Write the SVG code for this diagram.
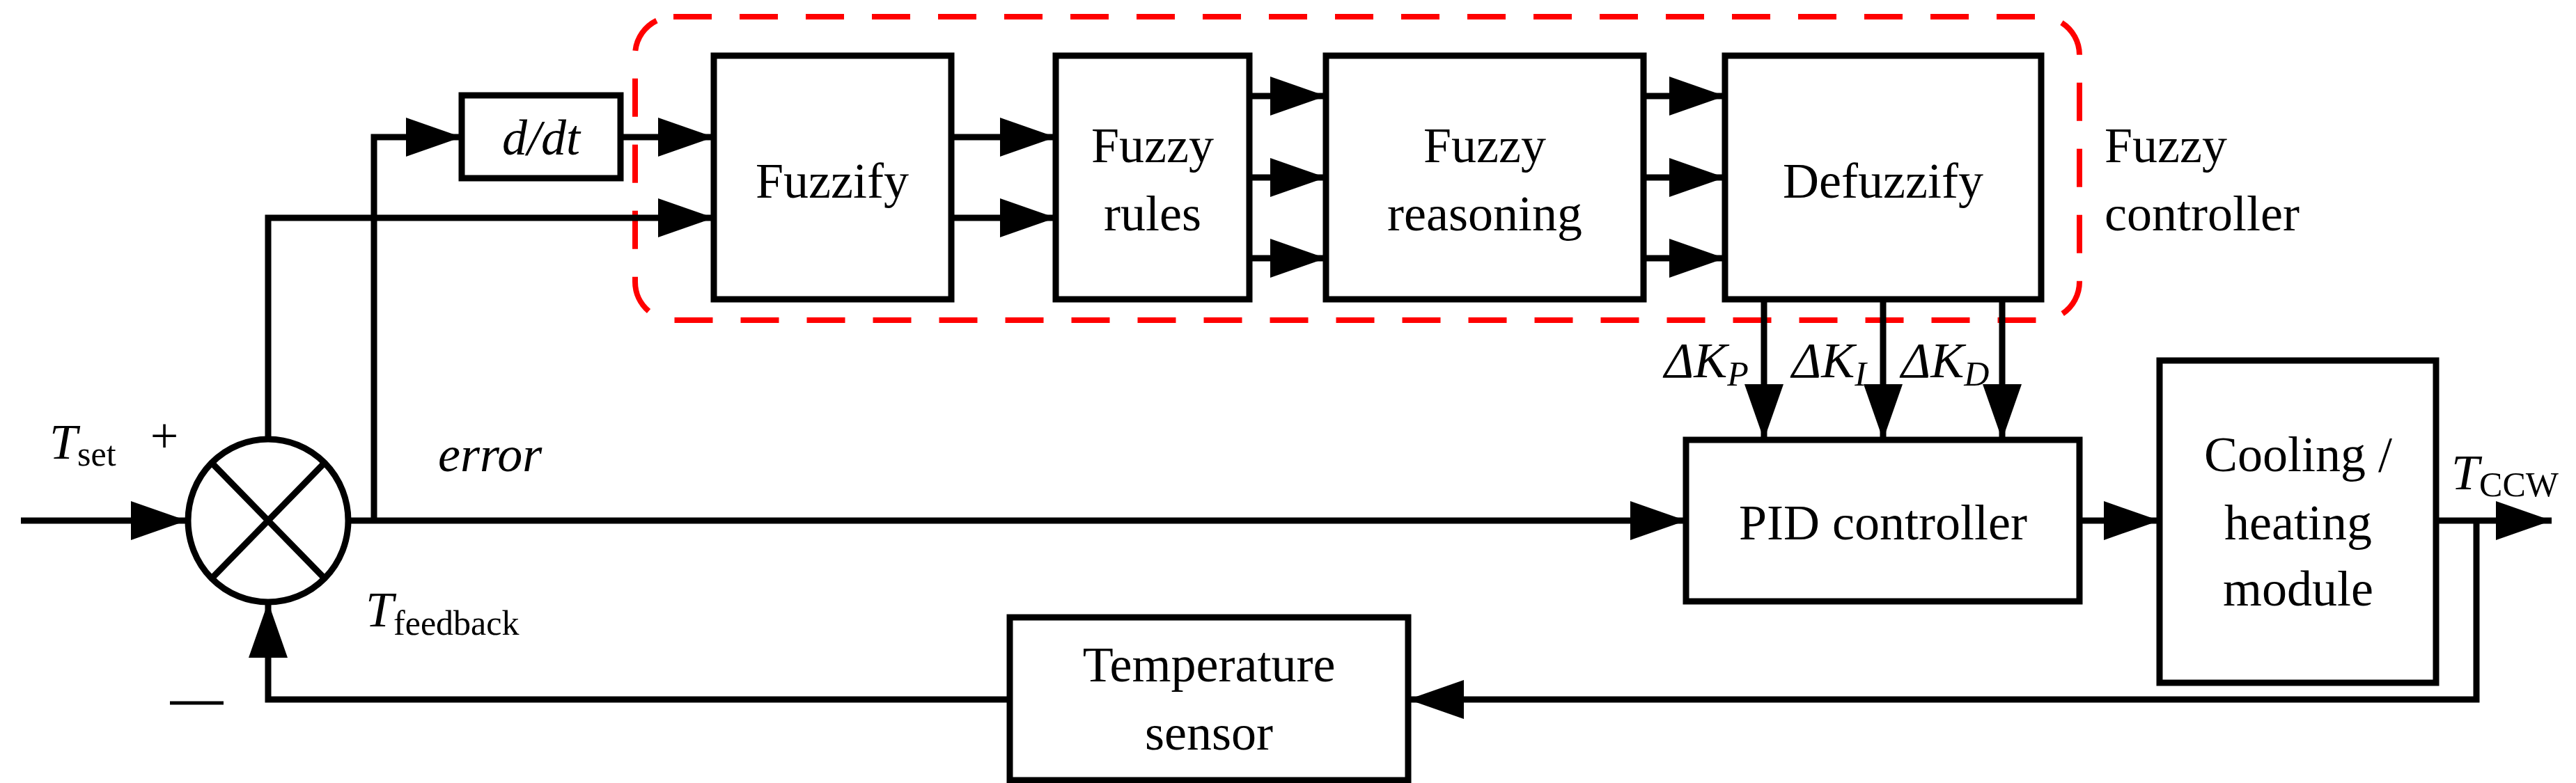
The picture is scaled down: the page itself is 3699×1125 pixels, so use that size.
<svg xmlns="http://www.w3.org/2000/svg" width="3699" height="1125" viewBox="0 0 3699 1125">
<defs>
<marker id="ah" viewBox="0 0 80 56" refX="80" refY="28" markerWidth="80" markerHeight="56" markerUnits="userSpaceOnUse" orient="auto"><path d="M0,0 L80,28 L0,56 Z" fill="#000"/></marker>
<style>
.b{fill:#fff;stroke:#000;stroke-width:9}
.l{fill:none;stroke:#000;stroke-width:9}
.t{font-family:"Liberation Serif",serif;font-size:72px;fill:#000;text-anchor:middle}
.i{font-style:italic}
</style>
</defs>
<rect x="912" y="24" width="2074" height="436" rx="55" fill="none" stroke="#f00" stroke-width="8" stroke-dasharray="55,40"/>
<g id="connectors">
<path class="l" d="M30,748 H268" marker-end="url(#ah)"/>
<path class="l" d="M500,748 H2421" marker-end="url(#ah)"/>
<path class="l" d="M537,748 V197 H663" marker-end="url(#ah)"/>
<path class="l" d="M891,197 H1025" marker-end="url(#ah)"/>
<path class="l" d="M385,633 V313 H1025" marker-end="url(#ah)"/>
<path class="l" d="M1366,197 H1516" marker-end="url(#ah)"/>
<path class="l" d="M1366,313 H1516" marker-end="url(#ah)"/>
<path class="l" d="M1794,138 H1904" marker-end="url(#ah)"/>
<path class="l" d="M1794,255 H1904" marker-end="url(#ah)"/>
<path class="l" d="M1794,371 H1904" marker-end="url(#ah)"/>
<path class="l" d="M2360,138 H2477" marker-end="url(#ah)"/>
<path class="l" d="M2360,255 H2477" marker-end="url(#ah)"/>
<path class="l" d="M2360,371 H2477" marker-end="url(#ah)"/>
<path class="l" d="M2533,430 V632" marker-end="url(#ah)"/>
<path class="l" d="M2704,430 V632" marker-end="url(#ah)"/>
<path class="l" d="M2875,430 V632" marker-end="url(#ah)"/>
<path class="l" d="M2986,748 H3101" marker-end="url(#ah)"/>
<path class="l" d="M3498,748 H3664" marker-end="url(#ah)"/>
<path class="l" d="M3556,748 V1005 H2022" marker-end="url(#ah)"/>
<path class="l" d="M1450,1005 H385 V865" marker-end="url(#ah)"/>
</g>
<g id="sum"><ellipse cx="385" cy="748" rx="115" ry="117" class="b"/><path class="l" d="M304,665 L466,831 M466,665 L304,831"/></g>
<g id="ddt"><rect class="b" x="663" y="137" width="228" height="119"/><text class="t i" x="777" y="222">d/dt</text></g>
<g id="fuzzify"><rect class="b" x="1025" y="80" width="341" height="350"/><text class="t" x="1195" y="284">Fuzzify</text></g>
<g id="rules"><rect class="b" x="1516" y="80" width="278" height="350"/><text class="t" x="1655" y="233">Fuzzy</text><text class="t" x="1655" y="331">rules</text></g>
<g id="reasoning"><rect class="b" x="1904" y="80" width="456" height="350"/><text class="t" x="2132" y="233">Fuzzy</text><text class="t" x="2132" y="331">reasoning</text></g>
<g id="defuzzify"><rect class="b" x="2477" y="80" width="454" height="350"/><text class="t" x="2704" y="284">Defuzzify</text></g>
<g id="pid"><rect class="b" x="2421" y="632" width="565" height="232"/><text class="t" x="2704" y="775">PID controller</text></g>
<g id="cooling"><rect class="b" x="3101" y="518" width="397" height="463"/><text class="t" x="3300" y="677">Cooling /</text><text class="t" x="3300" y="775">heating</text><text class="t" x="3300" y="870">module</text></g>
<g id="sensor"><rect class="b" x="1450" y="887" width="572" height="234"/><text class="t" x="1736" y="979">Temperature</text><text class="t" x="1736" y="1077">sensor</text></g>
<g id="labels">
<text class="t" x="3022" y="233" style="text-anchor:start">Fuzzy</text>
<text class="t" x="3022" y="331" style="text-anchor:start">controller</text>
<text class="t i" x="2390" y="542" style="text-anchor:start">ΔK<tspan font-size="50" dy="12">P</tspan></text>
<text class="t i" x="2573" y="542" style="text-anchor:start">ΔK<tspan font-size="50" dy="12">I</tspan></text>
<text class="t i" x="2730" y="542" style="text-anchor:start">ΔK<tspan font-size="50" dy="12">D</tspan></text>
<text class="t" x="71" y="659" style="text-anchor:start"><tspan font-style="italic">T</tspan><tspan font-size="50" dy="10">set</tspan></text>
<text class="t" x="236" y="650">+</text>
<text class="t i" x="629" y="677" style="text-anchor:start">error</text>
<text class="t" x="525" y="900" style="text-anchor:start"><tspan font-style="italic">T</tspan><tspan font-size="50" dy="12">feedback</tspan></text>
<text class="t" x="3520" y="703" style="text-anchor:start"><tspan font-style="italic">T</tspan><tspan font-size="50" dy="10">CCW</tspan></text>
<path d="M244,1010 H321" stroke="#000" stroke-width="5"/>
</g>
</svg>
